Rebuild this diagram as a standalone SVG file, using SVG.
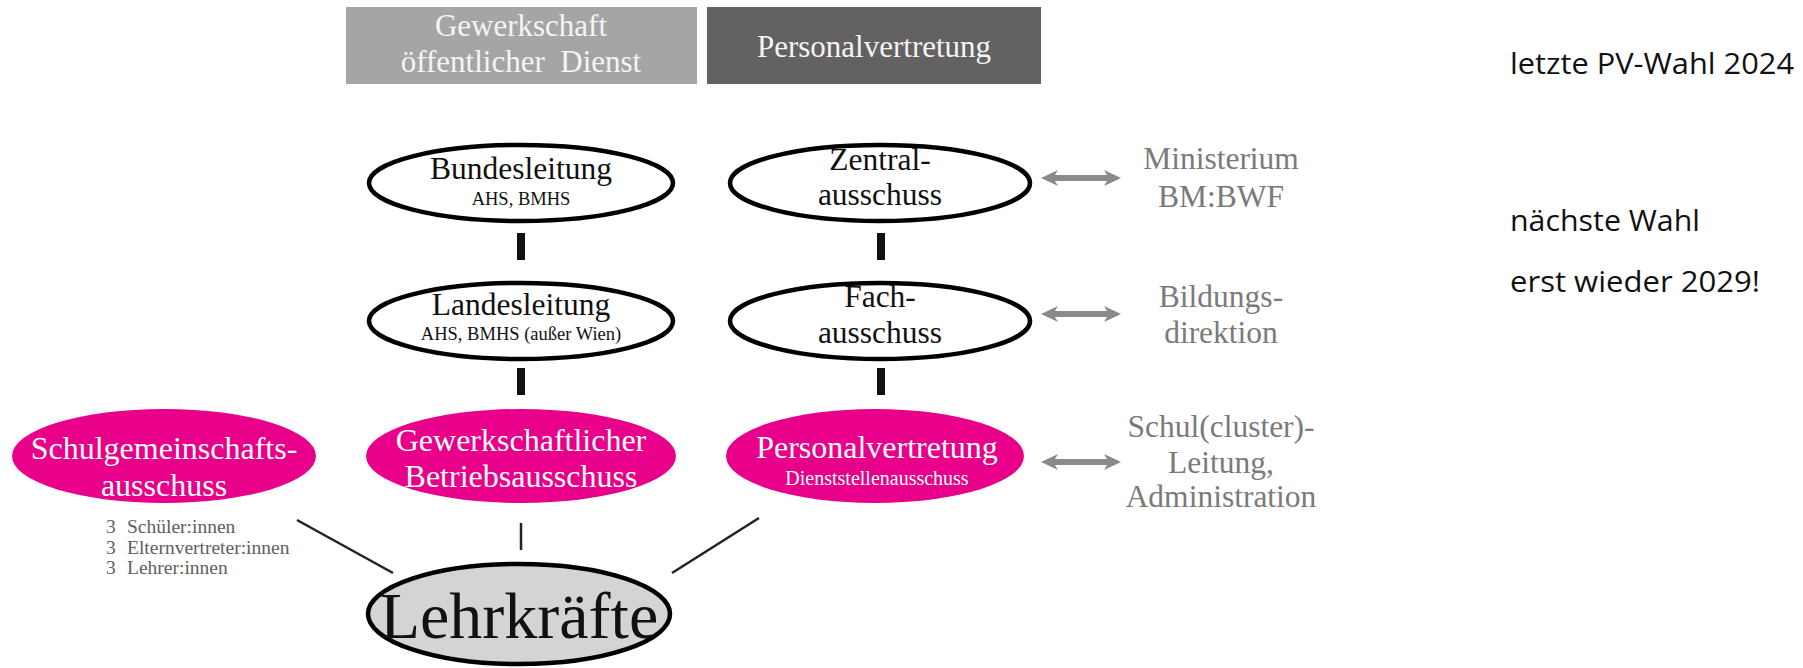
<svg xmlns="http://www.w3.org/2000/svg" width="1803" height="668" viewBox="0 0 1803 668">
<defs>
<style>
.serif{font-family:"Liberation Serif","Times New Roman",serif;text-anchor:middle}
.lbl{font-size:31.5px;fill:#111}
.sub{font-size:18.5px;fill:#111}
.wlbl{font-size:32px;fill:#fff}
.wsub{font-size:20px;fill:#fff}
.glbl{font-size:31.5px;fill:#7a7a7a}
.hdr{font-size:31px;fill:#f4f4f4}
.list{font-family:"Liberation Serif","Times New Roman",serif;font-size:19.5px;fill:#606060}
.note{font-family:"Open Sans","Noto Sans","Liberation Sans",sans-serif;font-size:29px;fill:#111}
.oval{fill:#fff;stroke:#000;stroke-width:4.5}
.pink{fill:#e8008a}
.arr{fill:#8a8a8a}
.bar{fill:#111}
.ln{stroke:#222;stroke-width:2.5;fill:none}
</style>
</defs>
<rect width="1803" height="668" fill="#fff"/>

<g id="hdr-gewerkschaft">
<rect x="346" y="7" width="351" height="77" fill="#a6a5a6"/>
<text class="serif hdr" x="521" y="36">Gewerkschaft</text>
<text class="serif hdr" x="521" y="72" xml:space="preserve">öffentlicher  Dienst</text>
</g>
<g id="hdr-pv">
<rect x="707" y="7" width="334" height="77" fill="#636162"/>
<text class="serif hdr" x="874" y="57">Personalvertretung</text>
</g>

<g id="connectors">
<rect class="bar" x="517" y="233" width="8" height="27"/>
<rect class="bar" x="877" y="233" width="8" height="27"/>
<rect class="bar" x="517" y="368" width="8" height="27"/>
<rect class="bar" x="877" y="368" width="8" height="27"/>
<line class="ln" x1="297" y1="520" x2="393" y2="573"/>
<line class="ln" x1="521" y1="523" x2="521" y2="550"/>
<line class="ln" x1="759" y1="518" x2="672" y2="573"/>
<path class="arr" d="M1041,178 L1058,170 L1055,175 L1107,175 L1104,170 L1121,178 L1104,186 L1107,181 L1055,181 L1058,186 Z"/>
<path class="arr" d="M1041,314 L1058,306 L1055,311 L1107,311 L1104,306 L1121,314 L1104,322 L1107,317 L1055,317 L1058,322 Z"/>
<path class="arr" d="M1041,462 L1058,454 L1055,459 L1107,459 L1104,454 L1121,462 L1104,470 L1107,465 L1055,465 L1058,470 Z"/>
</g>

<g id="bundesleitung">
<ellipse class="oval" cx="521" cy="183" rx="152" ry="38"/>
<text class="serif lbl" x="521" y="179">Bundesleitung</text>
<text class="serif sub" x="521" y="205">AHS, BMHS</text>
</g>
<g id="zentralausschuss">
<ellipse class="oval" cx="880" cy="183" rx="150" ry="38"/>
<text class="serif lbl" x="880" y="170">Zentral-</text>
<text class="serif lbl" x="880" y="205">ausschuss</text>
</g>
<g id="landesleitung">
<ellipse class="oval" cx="521" cy="321" rx="152" ry="38"/>
<text class="serif lbl" x="521" y="315">Landesleitung</text>
<text class="serif sub" x="521" y="340">AHS, BMHS (außer Wien)</text>
</g>
<g id="fachausschuss">
<ellipse class="oval" cx="880" cy="321" rx="150" ry="38"/>
<text class="serif lbl" x="880" y="307">Fach-</text>
<text class="serif lbl" x="880" y="343">ausschuss</text>
</g>

<g id="schulgemeinschaftsausschuss">
<ellipse class="pink" cx="164" cy="456" rx="152" ry="47"/>
<text class="serif wlbl" x="164" y="459">Schulgemeinschafts-</text>
<text class="serif wlbl" x="164" y="496">ausschuss</text>
</g>
<g id="sga-list">
<text class="list" x="106" y="533">3<tspan x="127">Schüler:innen</tspan></text>
<text class="list" x="106" y="554">3<tspan x="127">Elternvertreter:innen</tspan></text>
<text class="list" x="106" y="574">3<tspan x="127">Lehrer:innen</tspan></text>
</g>
<g id="betriebsausschuss">
<ellipse class="pink" cx="521" cy="456" rx="155" ry="47"/>
<text class="serif wlbl" x="521" y="451">Gewerkschaftlicher</text>
<text class="serif wlbl" x="521" y="487">Betriebsausschuss</text>
</g>
<g id="personalvertretung">
<ellipse class="pink" cx="875" cy="456" rx="149" ry="47"/>
<text class="serif wlbl" x="877" y="458">Personalvertretung</text>
<text class="serif wsub" x="877" y="485">Dienststellenausschuss</text>
</g>

<g id="lehrkraefte">
<ellipse cx="519" cy="614" rx="151" ry="50" fill="#d4d4d4" stroke="#000" stroke-width="4.5"/>
<text class="serif" x="519" y="638" font-size="66" fill="#111">Lehrkräfte</text>
</g>

<g id="ministerium">
<text class="serif glbl" x="1221" y="169">Ministerium</text>
<text class="serif glbl" x="1221" y="207">BM:BWF</text>
</g>
<g id="bildungsdirektion">
<text class="serif glbl" x="1221" y="307">Bildungs-</text>
<text class="serif glbl" x="1221" y="343">direktion</text>
</g>
<g id="schulleitung">
<text class="serif glbl" x="1221" y="437">Schul(cluster)-</text>
<text class="serif glbl" x="1221" y="473">Leitung,</text>
<text class="serif glbl" x="1221" y="507">Administration</text>
</g>

<g id="notes">
<text class="note" x="1510" y="74" textLength="284" lengthAdjust="spacingAndGlyphs">letzte PV-Wahl 2024</text>
<text class="note" x="1510" y="231" textLength="190" lengthAdjust="spacingAndGlyphs">nächste Wahl</text>
<text class="note" x="1510" y="292" textLength="250" lengthAdjust="spacingAndGlyphs">erst wieder 2029!</text>
</g>
</svg>
